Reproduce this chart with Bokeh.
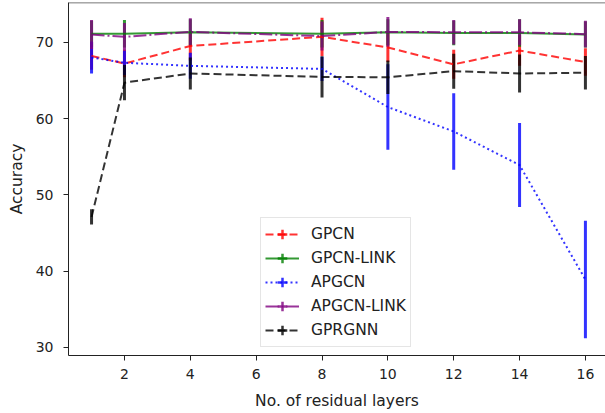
from bokeh.plotting import figure
from bokeh.models import ColumnDataSource, Range1d, FixedTicker, Legend, LegendItem, Span
from bokeh.embed import file_html
from bokeh.resources import INLINE

# ---- data ----
layers = [1, 2, 4, 8, 10, 12, 14, 16]
x_ticks = [2, 4, 6, 8, 10, 12, 14, 16]
y_ticks = [30, 40, 50, 60, 70]

gpcn = [68.2, 67.2, 69.5, 70.7, 69.3, 67.1, 68.9, 67.4]
gpcn_err = [1.8, 1.8, 1.9, 2.5, 1.9, 1.9, 2.0, 1.8]
gpcn_link = [71.1, 71.1, 71.3, 71.1, 71.3, 71.2, 71.2, 71.0]
gpcn_link_err = [1.7, 1.8, 1.7, 1.8, 1.7, 1.6, 1.8, 1.7]
apgcn = [68.0, 67.3, 66.9, 66.5, 61.5, 58.3, 53.9, 38.9]
apgcn_err = [2.1, 1.6, 1.7, 1.6, 5.6, 5.0, 5.5, 7.7]
apgcn_link = [71.0, 70.7, 71.35, 70.8, 71.35, 71.3, 71.3, 71.05]
apgcn_link_err = [1.9, 1.8, 1.8, 1.9, 1.95, 1.6, 1.7, 1.75]
gprgnn = [47.1, 64.7, 65.9, 65.45, 65.4, 66.2, 65.9, 66.0]
gprgnn_err = [1.0, 2.3, 2.1, 2.7, 2.2, 2.3, 2.5, 2.2]

names = ["GPCN", "GPCN-LINK", "APGCN", "APGCN-LINK", "GPRGNN"]
means = [gpcn, gpcn_link, apgcn, apgcn_link, gprgnn]
errs = [gpcn_err, gpcn_link_err, apgcn_err, apgcn_link_err, gprgnn_err]
colors = ["#ff0000", "#008000", "#0000ff", "#800080", "#000000"]
dashes = ["8 4", "solid", "2 3", "13 3 2 3", "8 4"]

FONT = "DejaVu Sans"
TXT = "#222222"

p = figure(width=605, height=413, output_backend="svg", toolbar_location=None,
           title=None,
           x_range=Range1d(0.3, 16.61), y_range=Range1d(28.95, 75.2),
           min_border_left=68, min_border_right=0, min_border_top=2,
           min_border_bottom=58)
p.outline_line_color = None
p.xgrid.visible = False
p.ygrid.visible = False
p.background_fill_color = "white"

for ax in (p.xaxis[0], p.yaxis[0]):
    ax.axis_line_color = TXT
    ax.axis_line_width = 1
    ax.major_tick_line_color = TXT
    ax.major_tick_out = 5
    ax.major_tick_in = 0
    ax.minor_tick_line_color = None
    ax.major_label_text_font = FONT
    ax.major_label_text_font_size = "14px"
    ax.major_label_text_color = TXT
    ax.axis_label_text_font = FONT
    ax.axis_label_text_font_size = "15.5px"
    ax.axis_label_text_font_style = "normal"
    ax.axis_label_text_color = TXT

p.xaxis.ticker = FixedTicker(ticks=x_ticks)
p.yaxis.ticker = FixedTicker(ticks=y_ticks)
p.xaxis.axis_label = "No. of residual layers"
p.yaxis.axis_label = "Accuracy"
p.xaxis.major_label_standoff = 8
p.yaxis.major_label_standoff = 10
p.xaxis.axis_label_standoff = 10
p.yaxis.axis_label_standoff = 7

# top spine
p.add_layout(Span(location=75.17, dimension="width", line_color=TXT, line_width=1))

# error bars (drawn beneath all lines, as matplotlib does)
for m, e, c in zip(means, errs, colors):
    src = ColumnDataSource(dict(x=layers,
                                lo=[a - b for a, b in zip(m, e)],
                                hi=[a + b for a, b in zip(m, e)]))
    p.segment(x0="x", y0="lo", x1="x", y1="hi", source=src,
              line_color=c, line_alpha=0.8, line_width=3)

items = []
for n, m, c, d in zip(names, means, colors, dashes):
    src = ColumnDataSource(dict(x=layers, y=m))
    r = p.line("x", "y", source=src, line_color=c, line_alpha=0.8,
               line_width=2, line_dash=d)
    # legend-only marker (hidden in the plot area)
    mk = p.scatter("x", "y", source=src, marker="cross", line_color=c,
                   line_alpha=0.8, line_width=2.5, size=10)
    mk.visible = False
    items.append(LegendItem(label=n, renderers=[r, mk]))

legend = Legend(items=items, location=(192, 8),
                label_text_font=FONT, label_text_font_size="15.5px",
                label_text_color=TXT,
                glyph_width=34, glyph_height=24, label_height=24,
                spacing=0, padding=4, margin=0, label_standoff=12,
                border_line_color="#cccccc", border_line_width=1,
                background_fill_color="white", background_fill_alpha=0.8)
p.add_layout(legend)

open("out.html", "w").write(file_html(p, INLINE))
